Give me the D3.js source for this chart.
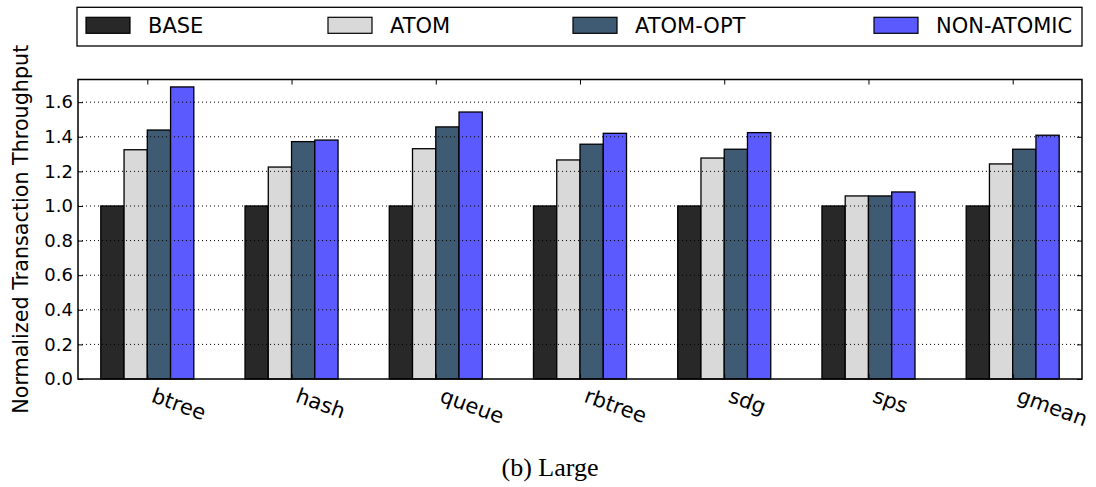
<!DOCTYPE html>
<html>
<head>
<meta charset="utf-8">
<title>Normalized Transaction Throughput (Large)</title>
<script src="https://cdn.jsdelivr.net/npm/d3@7"></script>
<style>
  body { margin: 0; background: #fff; }
  svg text { font-family: "DejaVu Sans", sans-serif; fill: #000; }
</style>
</head>
<body>
<div id="chart"></div>
<script>
// benchmarks and series
var categories = ["btree", "hash", "queue", "rbtree", "sdg", "sps", "gmean"];
var seriesNames = ["BASE", "ATOM", "ATOM-OPT", "NON-ATOMIC"];
var baseVals = [1.0, 1.0, 1.0, 1.0, 1.0, 1.0, 1.0];
var atomVals = [1.325, 1.225, 1.331, 1.266, 1.277, 1.058, 1.243];
var atomOptVals = [1.439, 1.372, 1.457, 1.357, 1.328, 1.058, 1.328];
var nonAtomicVals = [1.688, 1.381, 1.543, 1.420, 1.424, 1.081, 1.409];
var yTicks = [0.0, 0.2, 0.4, 0.6, 0.8, 1.0, 1.2, 1.4, 1.6];
var colors = ["#282828", "#d9d9d9", "#3f5a73", "#5a5aff"];

var W = 1096, H = 487;
var plot = {left: 78, right: 1082, top: 79.5, bottom: 379};
var allVals = [baseVals, atomVals, atomOptVals, nonAtomicVals];

var svg = d3.select("#chart").append("svg").attr("width", W).attr("height", H);

var x0 = d3.scaleBand().domain(categories).range([plot.left, plot.right])
  .paddingInner(0.355).paddingOuter(0.158);
var x1 = d3.scaleBand().domain(seriesNames).range([0, x0.bandwidth()]);
var y = d3.scaleLinear().domain([0, 1.731]).range([plot.bottom, plot.top]);

// bars
var groups = svg.selectAll(".grp").data(categories).enter().append("g")
  .attr("transform", function (c) { return "translate(" + x0(c) + ",0)"; });
groups.selectAll("rect").data(function (c, i) {
  return seriesNames.map(function (s, j) { return {s: s, j: j, v: allVals[j][i]}; });
}).enter().append("rect")
  .attr("x", function (d) { return x1(d.s); })
  .attr("y", function (d) { return y(d.v); })
  .attr("width", x1.bandwidth())
  .attr("height", function (d) { return y(0) - y(d.v); })
  .style("fill", function (d) { return colors[d.j]; })
  .style("stroke", "#000").style("stroke-width", 1.3);

// dotted grid on top of bars
svg.selectAll(".grid").data(yTicks.slice(1)).enter().append("line")
  .attr("x1", plot.left).attr("x2", plot.right)
  .attr("y1", function (d) { return y(d); }).attr("y2", function (d) { return y(d); })
  .style("stroke", "#000").style("stroke-width", 1).style("stroke-dasharray", "1,3");

// axes
var yAxisL = d3.axisLeft(y).tickValues(yTicks).tickFormat(d3.format(".1f")).tickSizeInner(-5).tickSizeOuter(0).tickPadding(5);
var gl = svg.append("g").attr("transform", "translate(" + plot.left + ",0)").call(yAxisL);
gl.select(".domain").remove();
gl.selectAll("text").style("font-size", "18px");

var yAxisR = d3.axisRight(y).tickValues(yTicks).tickFormat("").tickSizeInner(-5).tickSizeOuter(0);
var gr = svg.append("g").attr("transform", "translate(" + plot.right + ",0)").call(yAxisR);
gr.select(".domain").remove();

var centers = function (c) { return x0(c) + x0.bandwidth() / 2; };
var xTop = d3.axisTop(d3.scaleOrdinal().domain(categories).range(categories.map(centers)))
  .tickFormat("").tickSizeInner(-5).tickSizeOuter(0);
var gt = svg.append("g").attr("transform", "translate(0," + plot.top + ")").call(xTop);
gt.select(".domain").remove();

var xBot = d3.axisBottom(d3.scaleOrdinal().domain(categories).range(categories.map(centers)))
  .tickSizeInner(-5).tickSizeOuter(0);
var gb = svg.append("g").attr("transform", "translate(0," + plot.bottom + ")").call(xBot);
gb.select(".domain").remove();
gb.selectAll("text")
  .attr("y", 0).attr("dy", 0)
  .attr("transform", "translate(2.5,22.5) rotate(20)")
  .style("text-anchor", "start")
  .style("font-size", "21px");

// frame
svg.append("rect").attr("x", plot.left).attr("y", plot.top)
  .attr("width", plot.right - plot.left).attr("height", plot.bottom - plot.top)
  .style("fill", "none").style("stroke", "#000").style("stroke-width", 1.5);

// y label
svg.append("text").attr("transform", "translate(28," + ((plot.top + plot.bottom) / 2) + ") rotate(-90)")
  .style("text-anchor", "middle").style("font-size", "20.7px")
  .text("Normalized Transaction Throughput");

// legend
var leg = svg.append("g");
leg.append("rect").attr("x", 77).attr("y", 7.3).attr("width", 1005).attr("height", 38.7)
  .style("fill", "#fff").style("stroke", "#000").style("stroke-width", 1.3);
var legX = [86, 328, 573, 874];
var items = leg.selectAll(".item").data(seriesNames).enter().append("g")
  .attr("transform", function (d, i) { return "translate(" + legX[i] + ",17.3)"; });
items.append("rect").attr("width", 44).attr("height", 16)
  .style("fill", function (d, i) { return colors[i]; })
  .style("stroke", "#000").style("stroke-width", 1.2);
items.append("text").attr("x", 62).attr("y", 15.5).style("font-size", "21px")
  .text(function (d) { return d; });

// caption
svg.append("text").attr("x", 550).attr("y", 476).style("text-anchor", "middle")
  .style("font-family", "'Liberation Serif', 'Times New Roman', serif").style("font-size", "26px")
  .text("(b) Large");
</script>
</body>
</html>
